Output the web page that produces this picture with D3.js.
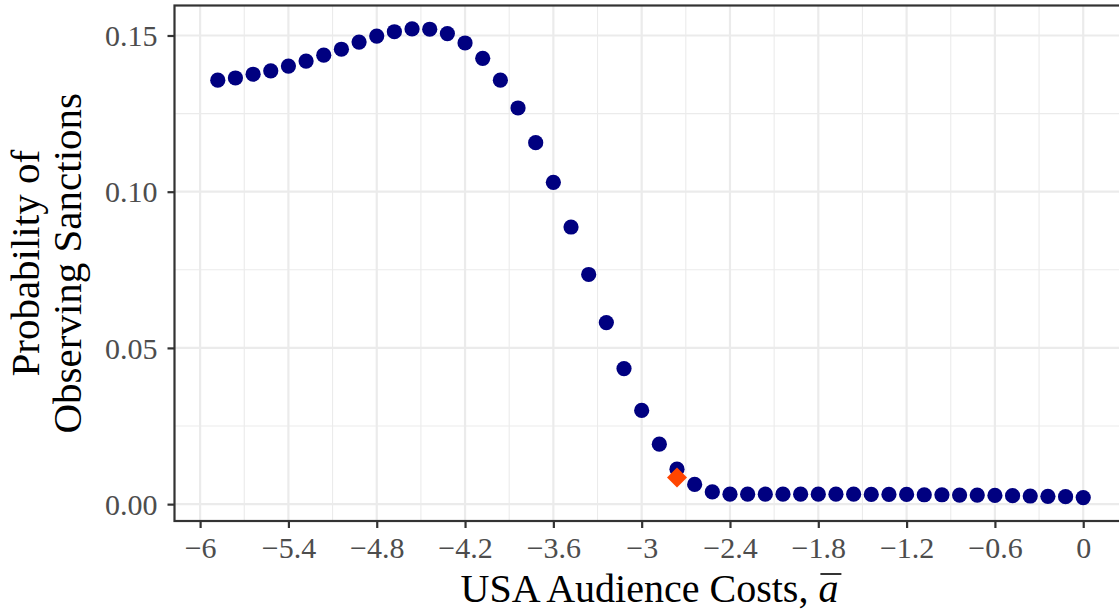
<!DOCTYPE html>
<html>
<head>
<meta charset="utf-8">
<script src="https://cdn.jsdelivr.net/npm/d3@7"></script>
<style>
  body { margin: 0; background: #fff; }
  svg { display: block; font-family: "Liberation Serif", "DejaVu Serif", serif; }
</style>
</head>
<body>
<div id="chart"></div>
<script>
// audience cost grid (50 values, step 0.12)
var costs = [-5.88, -5.76, -5.64, -5.52, -5.40, -5.28, -5.16, -5.04, -4.92, -4.80,
             -4.68, -4.56, -4.44, -4.32, -4.20, -4.08, -3.96, -3.84, -3.72, -3.60,
             -3.48, -3.36, -3.24, -3.12, -3.00, -2.88, -2.76, -2.64, -2.52, -2.40,
             -2.28, -2.16, -2.04, -1.92, -1.80, -1.68, -1.56, -1.44, -1.32, -1.20,
             -1.08, -0.96, -0.84, -0.72, -0.60, -0.48, -0.36, -0.24, -0.12, 0.00];
// probability of observing sanctions
var probs = [0.1357, 0.1364, 0.1376, 0.1387, 0.1402, 0.1418, 0.1437, 0.1456, 0.1479, 0.1498,
             0.1512, 0.1521, 0.1520, 0.1506, 0.1476, 0.1427, 0.1357, 0.1268, 0.1157, 0.1030,
             0.0887, 0.0735, 0.0581, 0.0434, 0.0300, 0.0192, 0.0112, 0.0063, 0.0039, 0.0032,
             0.0032, 0.0032, 0.0032, 0.0032, 0.0032, 0.0032, 0.0032, 0.0031, 0.0031, 0.0031,
             0.0030, 0.0030, 0.0029, 0.0029, 0.0028, 0.0027, 0.0026, 0.0025, 0.0024, 0.0021];
// observed (highlighted) estimate
var observedCost = [-2.76];
var observedProb = [0.0085];

var xTicks = [-6, -5.4, -4.8, -4.2, -3.6, -3, -2.4, -1.8, -1.2, -0.6, 0];
var yTicks = [0, 0.05, 0.10, 0.15];

var W = 1119, H = 615;
var margin = {top: 5.5, left: 174.5},
    width = 952,
    height = 515.5;

var nodes = costs.map(function (c, i) { return {x: c, y: probs[i]}; });
var obs = observedCost.map(function (c, i) { return {x: c, y: observedProb[i]}; });

// ggplot-style 5% expansion
var xr = d3.extent(costs), yr = d3.extent(probs);
var xe = (xr[1] - xr[0]) * 0.05, ye = (yr[1] - yr[0]) * 0.05;
var x = d3.scaleLinear().domain([xr[0] - xe, xr[1] + xe]).range([0, width]);
var y = d3.scaleLinear().domain([yr[0] - ye, yr[1] + ye]).range([height, 0]);

var svg = d3.select('#chart').append('svg')
    .attr('width', W).attr('height', H);

var vis = svg.append('g')
    .attr('transform', 'translate(' + margin.left + ',' + margin.top + ')');

// minor grid
var xMinor = d3.range(-6.3, 0.31, 0.6).filter(function (v) { return v > x.domain()[0] && v < x.domain()[1]; });
var yMinor = [0.025, 0.075, 0.125];
vis.selectAll('.xminor').data(xMinor).enter().append('line')
    .attr('x1', function (d) { return x(d); }).attr('x2', function (d) { return x(d); })
    .attr('y1', 0).attr('y2', height)
    .attr('stroke', '#ebebeb').attr('stroke-width', 1.1);
vis.selectAll('.yminor').data(yMinor).enter().append('line')
    .attr('y1', function (d) { return y(d); }).attr('y2', function (d) { return y(d); })
    .attr('x1', 0).attr('x2', width)
    .attr('stroke', '#ebebeb').attr('stroke-width', 1.1);
// major grid
vis.selectAll('.xmajor').data(xTicks).enter().append('line')
    .attr('x1', function (d) { return x(d); }).attr('x2', function (d) { return x(d); })
    .attr('y1', 0).attr('y2', height)
    .attr('stroke', '#ebebeb').attr('stroke-width', 2.2);
vis.selectAll('.ymajor').data(yTicks).enter().append('line')
    .attr('y1', function (d) { return y(d); }).attr('y2', function (d) { return y(d); })
    .attr('x1', 0).attr('x2', width)
    .attr('stroke', '#ebebeb').attr('stroke-width', 2.2);

// points
vis.selectAll('circle').data(nodes).enter().append('circle')
    .attr('cx', function (d) { return x(d.x); })
    .attr('cy', function (d) { return y(d.y); })
    .attr('r', 7.6)
    .attr('fill', '#000080');

// observed diamond
vis.selectAll('.obs').data(obs).enter().append('path')
    .attr('d', d3.symbol().type(d3.symbolSquare).size(200))
    .attr('transform', function (d) { return 'translate(' + x(d.x) + ',' + y(d.y) + ') rotate(45)'; })
    .attr('fill', '#ff4500');

// panel border
vis.append('rect')
    .attr('width', width).attr('height', height)
    .attr('fill', 'none').attr('stroke', '#333').attr('stroke-width', 2.2);

// axes
var fmtX = function (d) { return d === 0 ? '0' : (d < 0 ? '\u2212' : '') + Math.abs(d).toString(); };
var xAxis = vis.append('g')
    .attr('transform', 'translate(0,' + height + ')')
    .call(d3.axisBottom(x).tickValues(xTicks).tickFormat(fmtX).tickSize(7).tickPadding(8));
var yAxis = vis.append('g')
    .call(d3.axisLeft(y).tickValues(yTicks).tickFormat(d3.format('.2f')).tickSize(7).tickPadding(10));

[xAxis, yAxis].forEach(function (ax) {
    ax.select('.domain').remove();
    ax.selectAll('.tick line').attr('stroke', '#333').attr('stroke-width', 2.2);
    ax.selectAll('.tick text')
        .attr('fill', '#4d4d4d')
        .style('font-family', '"Liberation Serif", serif')
        .style('font-size', '30px');
});
xAxis.selectAll('.tick text').attr('dy', '0.74em');
yAxis.selectAll('.tick text').attr('dy', '0.34em');

// x title
var xt = svg.append('text')
    .attr('x', margin.left + width / 2 - 1)
    .attr('y', 602)
    .attr('text-anchor', 'middle')
    .style('font-size', '40px')
    .attr('fill', '#000');
xt.append('tspan').text('USA Audience Costs, ');
xt.append('tspan').text('a').style('font-style', 'italic');
// overline over the italic a
var n = xt.node(), last = n.getNumberOfChars() - 1;
var a0 = n.getStartPositionOfChar(last).x, a1 = n.getEndPositionOfChar(last).x;
svg.append('line')
    .attr('x1', a0 + 2).attr('x2', a1 + 3)
    .attr('y1', 574).attr('y2', 574)
    .attr('stroke', '#000').attr('stroke-width', 1.6);

// y title (two lines)
var yt = svg.append('text')
    .attr('transform', 'translate(39,' + (margin.top + height / 2) + ') rotate(-90)')
    .attr('text-anchor', 'middle')
    .style('font-size', '41px')
    .attr('fill', '#000');
yt.append('tspan').attr('x', 0).attr('dy', 0).text('Probability of');
yt.append('tspan').attr('x', 0).attr('dy', 42).text('Observing Sanctions');
</script>
</body>
</html>
